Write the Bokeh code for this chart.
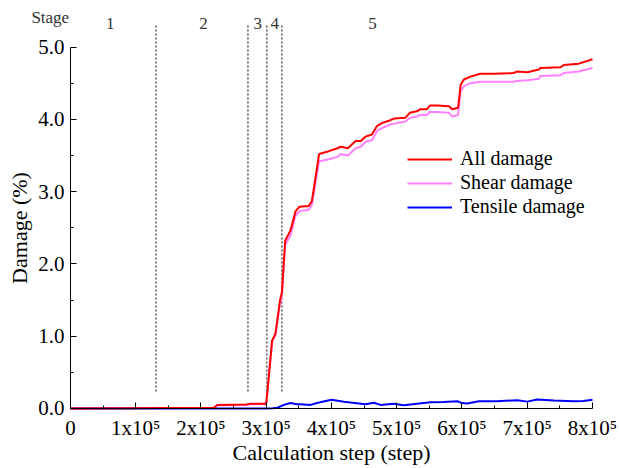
from bokeh.plotting import figure
from bokeh.models import Range1d, FixedTicker, Legend, LegendItem, PrintfTickFormatter
from bokeh.core.properties import value
from bokeh.embed import file_html
from bokeh.resources import INLINE

FONT = "Liberation Serif"

# ---- data ----
steps = [0, 1.0e5, 2.2e5, 2.25e5, 2.7e5, 2.75e5, 2.99e5, 3.00e5, 3.09e5, 3.14e5,
         3.21e5, 3.24e5, 3.29e5, 3.37e5, 3.45e5, 3.51e5, 3.65e5, 3.70e5, 3.81e5,
         3.93e5, 4.09e5, 4.14e5, 4.25e5, 4.37e5, 4.45e5, 4.52e5, 4.62e5, 4.70e5,
         4.78e5, 4.88e5, 4.96e5, 5.13e5, 5.20e5, 5.31e5, 5.36e5, 5.46e5, 5.51e5,
         5.62e5, 5.80e5, 5.85e5, 5.94e5, 5.98e5, 6.03e5, 6.13e5, 6.28e5, 6.49e5,
         6.79e5, 6.84e5, 7.00e5, 7.18e5, 7.20e5, 7.51e5, 7.56e5, 7.79e5, 8.00e5]
all_damage = [0.0, 0.005, 0.01, 0.05, 0.055, 0.065, 0.065, 0.07, 0.94, 1.03,
              1.49, 1.61, 2.32, 2.46, 2.73, 2.79, 2.80, 2.87, 3.52,
              3.55, 3.60, 3.62, 3.60, 3.70, 3.70, 3.76, 3.79, 3.91,
              3.95, 3.98, 4.01, 4.02, 4.09, 4.11, 4.14, 4.14, 4.19,
              4.19, 4.18, 4.14, 4.16, 4.48, 4.55, 4.59, 4.63, 4.63,
              4.64, 4.66, 4.65, 4.69, 4.71, 4.72, 4.75, 4.77, 4.83]
shear_damage = [0.0, 0.005, 0.01, 0.045, 0.05, 0.06, 0.06, 0.065, 0.93, 1.01,
                1.45, 1.56, 2.26, 2.39, 2.67, 2.73, 2.75, 2.82, 3.42,
                3.44, 3.48, 3.52, 3.50, 3.60, 3.62, 3.69, 3.71, 3.84,
                3.88, 3.92, 3.94, 3.97, 4.02, 4.04, 4.06, 4.06, 4.10,
                4.10, 4.09, 4.04, 4.06, 4.39, 4.46, 4.50, 4.52, 4.52,
                4.52, 4.53, 4.54, 4.56, 4.60, 4.61, 4.64, 4.66, 4.71]
tensile_steps = [0, 3.0e5, 3.1e5, 3.17e5, 3.27e5, 3.37e5, 3.47e5, 3.52e5, 3.68e5,
                 3.75e5, 3.86e5, 4.0e5, 4.19e5, 4.52e5, 4.65e5, 4.75e5, 4.95e5,
                 5.11e5, 5.31e5, 5.52e5, 5.72e5, 5.93e5, 6.0e5, 6.08e5, 6.26e5,
                 6.54e5, 6.85e5, 7.0e5, 7.15e5, 7.41e5, 7.71e5, 7.86e5, 8.0e5]
tensile_damage = [0.0, 0.0, 0.005, 0.01, 0.05, 0.075, 0.06, 0.058, 0.05,
                  0.07, 0.094, 0.12, 0.094, 0.058, 0.08, 0.05, 0.066,
                  0.045, 0.066, 0.086, 0.09, 0.10, 0.075, 0.07, 0.10,
                  0.10, 0.115, 0.095, 0.125, 0.11, 0.10, 0.105, 0.12]

stage_bounds = [1.31e5, 2.72e5, 3.01e5, 3.24e5]
stage_names = ["Stage", "1", "2", "3", "4", "5"]
stage_centers = [-0.31e5, 0.61e5, 2.04e5, 2.87e5, 3.13e5, 4.63e5]
stage_label_y = [5.41, 5.325, 5.325, 5.325, 5.325, 5.325]

x_ticks = [0, 1e5, 2e5, 3e5, 4e5, 5e5, 6e5, 7e5, 8e5]
x_tick_labels = ["0", "1x10\u2075", "2x10\u2075", "3x10\u2075", "4x10\u2075",
                 "5x10\u2075", "6x10\u2075", "7x10\u2075", "8x10\u2075"]
y_ticks = [0, 1, 2, 3, 4, 5]
x_title = "Calculation step (step)"
y_title = "Damage (%)"

# ---- figure (frame spans the whole canvas; axes sit at the data origin) ----
p = figure(width=619, height=468, output_backend="svg", toolbar_location=None,
           x_range=Range1d(-1.0728e5, 8.4138e5), y_range=Range1d(-0.8299, 5.6432),
           min_border_left=0, min_border_right=0, min_border_top=0,
           min_border_bottom=0)
p.outline_line_color = None
p.grid.visible = False
p.background_fill_color = "white"

STAGE_TOP = 5.325
STAGE_BOTTOM = 0.235
p.segment(x0=stage_bounds, y0=STAGE_BOTTOM, x1=stage_bounds, y1=STAGE_TOP,
          line_color="black", line_width=1, line_dash="2 2")

p.text(x=stage_centers, y=stage_label_y, text=stage_names, text_font=value(FONT),
       text_font_size="17px", text_color="#333333", text_align="center",
       text_baseline="middle")

r_shear = p.line(steps, shear_damage, line_color="#ff80ff", line_width=2)
r_ten = p.line(tensile_steps, tensile_damage, line_color="#0000ff", line_width=2)
r_all = p.line(steps, all_damage, line_color="#ff0000", line_width=2)

# x-axis title, centred under the axis
p.text(x=[(x_ticks[0] + x_ticks[-1]) / 2], y=[-0.61], text=[x_title],
       text_font=value(FONT), text_font_size="22px", text_color="black",
       text_align="center", text_baseline="middle")

# axes
xa = p.xaxis[0]
xa.ticker = FixedTicker(ticks=x_ticks, minor_ticks=[t + 0.5e5 for t in x_ticks[:-1]])
xa.major_label_overrides = {t: l for t, l in zip(x_ticks, x_tick_labels)}
xa.bounds = (0, 8e5)
xa.fixed_location = 0
ya = p.yaxis[0]
ya.ticker = FixedTicker(ticks=y_ticks, minor_ticks=[t + 0.5 for t in y_ticks[:-1]])
ya.formatter = PrintfTickFormatter(format="%.1f")
ya.axis_label = y_title
ya.bounds = (0, 5)
ya.fixed_location = 0

for ax in (xa, ya):
    ax.axis_line_color = "black"
    ax.axis_line_width = 1
    ax.major_tick_in = 6
    ax.major_tick_out = 0
    ax.minor_tick_in = 3
    ax.minor_tick_out = 0
    ax.major_tick_line_color = "black"
    ax.minor_tick_line_color = "black"
    ax.major_label_text_font = FONT
    ax.major_label_text_font_size = "21px"
    ax.major_label_text_color = "black"
    ax.axis_label_text_font = FONT
    ax.axis_label_text_font_size = "22px"
    ax.axis_label_text_font_style = "normal"
    ax.axis_label_text_color = "black"
xa.major_label_standoff = 8
ya.major_label_standoff = 6
ya.axis_label_standoff = 3

legend = Legend(items=[LegendItem(label="All damage", renderers=[r_all]),
                       LegendItem(label="Shear damage", renderers=[r_shear]),
                       LegendItem(label="Tensile damage", renderers=[r_ten])],
                location=(407, 250), glyph_width=45, glyph_height=20,
                label_height=20, spacing=1, padding=0, margin=0,
                label_standoff=8, border_line_color=None,
                background_fill_alpha=0, label_text_font=FONT,
                label_text_font_size="20px", label_text_color="black")
p.add_layout(legend)

open("out.html", "w").write(file_html(p, INLINE))
